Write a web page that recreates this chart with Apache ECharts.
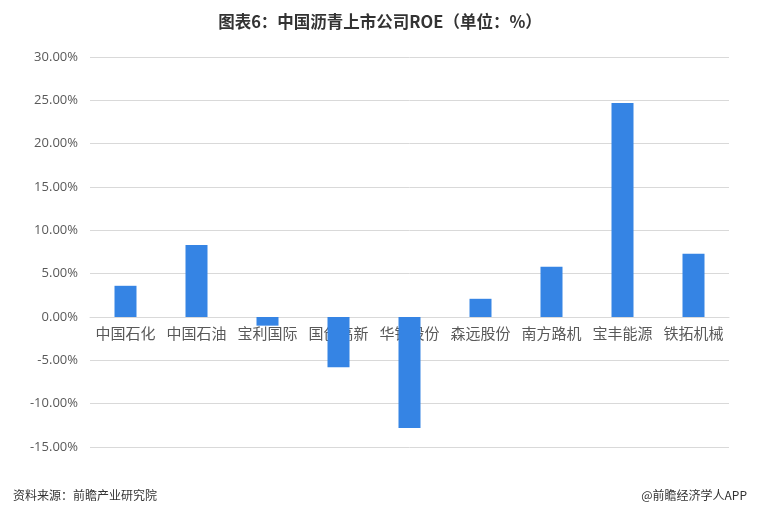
<!DOCTYPE html>
<html><head><meta charset="utf-8">
<script src="https://cdn.jsdelivr.net/npm/echarts@6/dist/echarts.min.js"></script>
<style>html,body{margin:0;padding:0;background:#fff}#c{width:760px;height:512px}</style>
</head><body><div id="c"></div>
<script>
const categories = ['中国石化','中国石油','宝利国际','国创高新','华锦股份','森远股份','南方路机','宝丰能源','铁拓机械'];
const roeValues = [3.6, 8.3, -1.0, -5.8, -12.8, 2.1, 5.8, 24.7, 7.3];
const titleText = '图表6：中国沥青上市公司ROE（单位：%）';
const sourceText = '资料来源：前瞻产业研究院';
const brandText = '@前瞻经济学人APP';

const chart = echarts.init(document.getElementById('c'));
chart.setOption({
  backgroundColor: '#fff',
  animation: false,
  title: [
    {text: titleText, left: 'center', top: 8, textStyle: {fontSize: 16.5, fontWeight: 'bold', color: '#333', fontFamily: 'Noto Sans CJK SC'}},
    {text: sourceText, left: 8, top: 484, textStyle: {fontSize: 12, fontWeight: 'normal', color: '#333', fontFamily: 'Noto Sans CJK SC'}},
    {text: brandText, right: 8, top: 484, textStyle: {fontSize: 12, fontWeight: 'normal', color: '#333', fontFamily: 'Noto Sans CJK SC'}}
  ],
  grid: {left: 90, right: 31, top: 57, bottom: 65, containLabel: false},
  xAxis: {
    type: 'category', data: categories,
    offset: -130, z: 0,
    axisLine: {onZero: false, lineStyle: {color: '#d9d9d9'}},
    axisTick: {show: false},
    axisLabel: {fontSize: 15, color: '#595959', fontFamily: 'Noto Sans CJK SC', margin: 9, interval: 0}
  },
  yAxis: {
    type: 'value', min: -15, max: 30, interval: 5,
    axisLine: {show: false}, axisTick: {show: false},
    splitLine: {lineStyle: {color: '#d9d9d9'}},
    axisLabel: {fontSize: 13, color: '#595959', margin: 12, fontFamily: 'Open Sans',
      formatter: v => v.toFixed(2) + '%'}
  },
  series: [{
    type: 'bar', data: roeValues, barWidth: 22, zlevel: 1,
    itemStyle: {color: '#3584E4'}
  }]
});
</script></body></html>
